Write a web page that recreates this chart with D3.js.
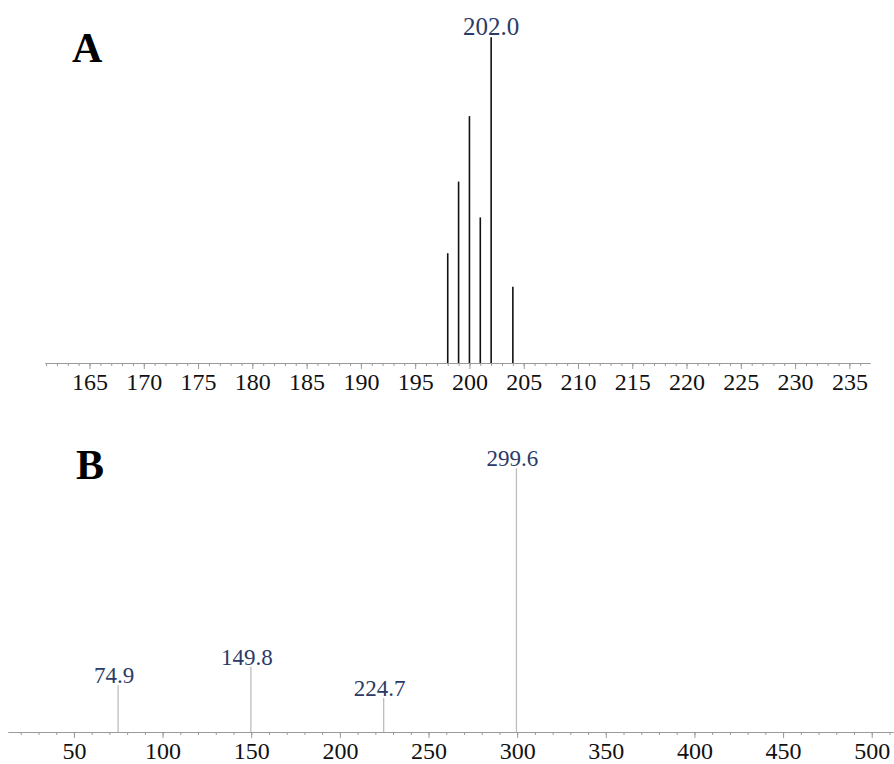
<!DOCTYPE html>
<html lang="en">
<head>
<meta charset="UTF-8">
<title>Spectra</title>
<script src="https://cdn.jsdelivr.net/npm/d3@7/dist/d3.min.js"></script>
<style>
  body { margin: 0; background: #fff; }
  svg text { font-family: "Liberation Serif", "Times New Roman", serif; }
  .axis path, .axis line { stroke: #9a9a9a; }
  .axis text { fill: #111; font-size: 24px; font-family: "Liberation Serif", "Times New Roman", serif; }
</style>
</head>
<body>
<svg id="chart" width="894" height="764"></svg>

<script>
// panel A : isotope pattern (m/z, relative intensity %)
let massA = [198, 199, 200, 201, 202, 204];
let intensA = [33.7, 55.7, 75.8, 44.7, 100, 23.4];
let peakLabelA = [{ x: 202, y: 100, text: "202.0" }];
let ticksA = [165, 170, 175, 180, 185, 190, 195, 200, 205, 210, 215, 220, 225, 230, 235];

// panel B : charge states
let massB = [74.9, 149.8, 224.7, 299.6];
let intensB = [17.7, 24.7, 12.9, 100];
let labelB = ["74.9", "149.8", "224.7", "299.6"];
let ticksB = [50, 100, 150, 200, 250, 300, 350, 400, 450, 500];

let svg = d3.select("#chart");

function drawPanel(opt) {
  let x = d3.scaleLinear().domain(opt.xDomain).range(opt.xRange);
  let y = d3.scaleLinear().domain([0, 100]).range([opt.base, opt.top]);

  // minor ticks first, then the labelled major ones
  let minor = d3.range(Math.ceil(opt.xDomain[0] / opt.minorStep) * opt.minorStep, opt.xDomain[1], opt.minorStep);
  svg.append("g")
    .attr("class", "axis")
    .attr("transform", "translate(0," + opt.base + ")")
    .call(d3.axisBottom(x).tickValues(minor).tickSize(3).tickFormat("").tickSizeOuter(0));

  let major = svg.append("g")
    .attr("class", "axis")
    .attr("transform", "translate(0," + opt.base + ")")
    .call(d3.axisBottom(x).tickValues(opt.ticks).tickSize(6).tickPadding(4).tickSizeOuter(0).tickFormat(d3.format("d")));
  major.attr("font-family", null).attr("font-size", null);
  major.selectAll("text")
    .attr("font-family", "Liberation Serif, Times New Roman, serif")
    .attr("font-size", 24);

  svg.selectAll(null)
    .data(opt.mass)
    .enter()
    .append("line")
    .attr("x1", d => x(d))
    .attr("x2", d => x(d))
    .attr("y1", opt.base)
    .attr("y2", (d, i) => y(opt.intens[i]))
    .attr("stroke", opt.lineColor)
    .attr("stroke-width", opt.lineWidth);

  svg.selectAll(null)
    .data(opt.labels)
    .enter()
    .append("text")
    .attr("x", d => x(d.x) + opt.labelDx)
    .attr("y", d => y(d.y) - 2)
    .attr("text-anchor", "middle")
    .attr("fill", "#2b3a66")
    .style("font-size", opt.labelSize + "px")
    .text(d => d.text);

  svg.append("text")
    .attr("x", opt.tag[0])
    .attr("y", opt.tag[1])
    .attr("fill", "#000")
    .style("font-size", "42px")
    .style("font-weight", "bold")
    .text(opt.tag[2]);
}

drawPanel({
  xDomain: [160.9, 236.9], xRange: [45, 870],
  base: 363, top: 37.3,
  mass: massA, intens: intensA,
  labels: peakLabelA, labelDx: 0, labelSize: 25,
  ticks: ticksA, minorStep: 1,
  lineColor: "#111", lineWidth: 1.6,
  tag: [72, 62, "A"]
});

drawPanel({
  xDomain: [12.8, 512], xRange: [8, 893],
  base: 732, top: 468.3,
  mass: massB, intens: intensB,
  labels: massB.map((m, i) => ({ x: m, y: intensB[i], text: labelB[i] })),
  labelDx: -4, labelSize: 23,
  ticks: ticksB, minorStep: 10,
  lineColor: "#bdbdbd", lineWidth: 1.3,
  tag: [76, 479, "B"]
});
</script>
</body>
</html>
